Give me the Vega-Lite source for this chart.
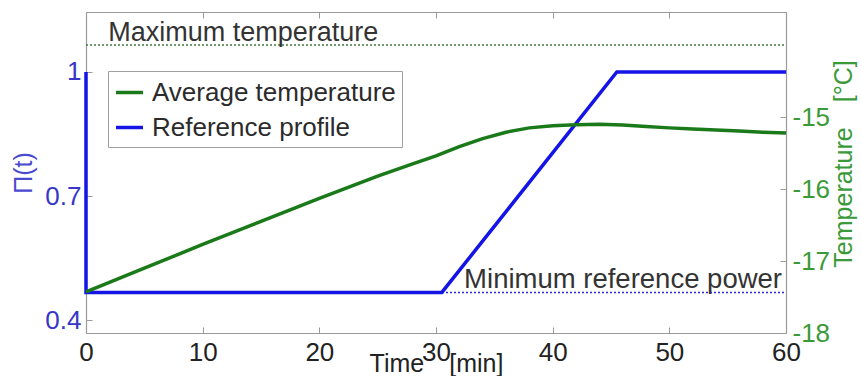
{
  "$schema": "https://vega.github.io/schema/vega-lite/v6.json",
  "width": 700,
  "height": 321,
  "autosize": {"type": "none"},
  "padding": {"left": 86, "top": 12, "right": 75, "bottom": 43},
  "background": "white",
  "config": {
    "font": "Liberation Sans",
    "view": {"stroke": null},
    "axis": {
      "grid": false,
      "domainColor": "#9a9a9a",
      "domainWidth": 1.2,
      "tickColor": "#9a9a9a",
      "tickSize": -6,
      "labelFontSize": 26,
      "labelFlush": false,
      "labelOverlap": false,
      "labelFont": "Liberation Sans",
      "titleFont": "Liberation Sans",
      "titleFontWeight": "normal",
      "titleFontSize": 25
    },
    "legend": {
      "orient": "none",
      "legendX": 22,
      "legendY": 59,
      "strokeColor": "#a0a0a0",
      "fillColor": "white",
      "padding": 6,
      "symbolType": "stroke",
      "symbolSize": 729,
      "symbolStrokeWidth": 3.5,
      "labelFontSize": 26,
      "labelColor": "#2b2b2b",
      "labelFont": "Liberation Sans",
      "labelOffset": 7,
      "rowPadding": 6,
      "labelLimit": 400
    }
  },
  "datasets": {
    "profile": [
      {"t": 0, "power": 1, "i": 0},
      {"t": 0, "power": 0.467, "i": 1},
      {"t": 30.5, "power": 0.467, "i": 2},
      {"t": 45.5, "power": 1, "i": 3},
      {"t": 60, "power": 1, "i": 4}
    ],
    "temperature": [
      {"t": 0, "temp": -17.43},
      {"t": 5, "temp": -17.1},
      {"t": 10, "temp": -16.77},
      {"t": 15, "temp": -16.45},
      {"t": 20, "temp": -16.13},
      {"t": 25, "temp": -15.82},
      {"t": 28, "temp": -15.65},
      {"t": 30, "temp": -15.54},
      {"t": 32, "temp": -15.41},
      {"t": 34, "temp": -15.3},
      {"t": 36, "temp": -15.21},
      {"t": 38, "temp": -15.15},
      {"t": 40, "temp": -15.12},
      {"t": 42, "temp": -15.105},
      {"t": 44, "temp": -15.1},
      {"t": 46, "temp": -15.11},
      {"t": 48, "temp": -15.13},
      {"t": 50, "temp": -15.15},
      {"t": 52, "temp": -15.165},
      {"t": 54, "temp": -15.18},
      {"t": 56, "temp": -15.195},
      {"t": 58, "temp": -15.21},
      {"t": 60, "temp": -15.22}
    ],
    "minPower": [{"t": 60, "power": 0.467, "label": "Minimum reference power"}],
    "maxTemp": [{"t": 1.9, "temp": -14, "label": "Maximum temperature"}]
  },
  "layer": [
    {
      "encoding": {
        "x": {
          "field": "t",
          "type": "quantitative",
          "scale": {"domain": [0, 60], "nice": false},
          "axis": {
            "orient": "bottom",
            "values": [0, 10, 20, 30, 40, 50, 60],
            "labelColor": "#222222",
            "labelPadding": 12,
            "title": "Time\u2003[min]",
            "titleColor": "#222222",
            "titleX": 350,
            "titleY": 38,
            "titleAlign": "center",
            "titleBaseline": "alphabetic"
          }
        },
        "y": {
          "field": "power",
          "type": "quantitative",
          "scale": {"domain": [0.369, 1.145], "nice": false, "zero": false},
          "axis": {
            "orient": "left",
            "values": [0.4, 0.7, 1],
            "labelExpr": "datum.value == 1 ? '1' : format(datum.value, '.1f')",
            "labelColor": "#3636c8",
            "labelPadding": 11,
            "title": "\u03a0(t)",
            "titleColor": "#4a4ad0",
            "titleAngle": -90,
            "titleX": -63,
            "titleY": 160.5,
            "titleAlign": "center",
            "titleBaseline": "middle"
          }
        }
      },
      "layer": [
        {
          "data": {"name": "minPower"},
          "mark": {"type": "rule", "color": "#2a2ad8", "strokeDash": [2, 2], "strokeWidth": 1.5},
          "encoding": {"x": {"datum": 0}, "x2": {"datum": 60}}
        },
        {
          "data": {"name": "minPower"},
          "mark": {"type": "text", "align": "right", "baseline": "alphabetic", "dx": -4, "dy": -4, "fontSize": 27.5, "color": "#333333"},
          "encoding": {"text": {"field": "label"}}
        },
        {
          "data": {"name": "profile"},
          "mark": {"type": "line", "strokeWidth": 3.5},
          "encoding": {
            "order": {"field": "i"},
            "color": {
              "datum": "Reference profile",
              "scale": {"domain": ["Average temperature", "Reference profile"], "range": ["#1a7a1a", "#1414e6"]},
              "legend": {"title": null}
            }
          }
        }
      ]
    },
    {
      "encoding": {
        "x": {
          "field": "t",
          "type": "quantitative",
          "scale": {"domain": [0, 60], "nice": false},
          "axis": {
            "orient": "top",
            "values": [0, 10, 20, 30, 40, 50, 60],
            "labels": false,
            "title": null
          }
        },
        "y": {
          "field": "temp",
          "type": "quantitative",
          "scale": {"domain": [-18, -13.54], "nice": false, "zero": false},
          "axis": {
            "orient": "right",
            "values": [-18, -17, -16, -15],
            "labelExpr": "'-' + abs(datum.value)",
            "labelColor": "#3a9a3a",
            "labelPadding": 12,
            "title": "Temperature\u2003[\u00b0C]",
            "titleColor": "#3a9a3a",
            "titleAngle": -90,
            "titleX": 57,
            "titleY": 151.5,
            "titleAlign": "center",
            "titleBaseline": "middle"
          }
        }
      },
      "layer": [
        {
          "data": {"name": "maxTemp"},
          "mark": {"type": "rule", "color": "#3f7a3f", "strokeDash": [2, 2], "strokeWidth": 1.5},
          "encoding": {"x": {"datum": 0}, "x2": {"datum": 60}}
        },
        {
          "data": {"name": "maxTemp"},
          "mark": {"type": "text", "align": "left", "baseline": "alphabetic", "dy": -4, "fontSize": 27, "color": "#333333"},
          "encoding": {"text": {"field": "label"}}
        },
        {
          "data": {"name": "temperature"},
          "mark": {"type": "line", "strokeWidth": 3.5},
          "encoding": {
            "color": {"datum": "Average temperature"}
          }
        }
      ]
    }
  ],
  "resolve": {"scale": {"y": "independent"}, "axis": {"x": "independent", "y": "independent"}}
}
